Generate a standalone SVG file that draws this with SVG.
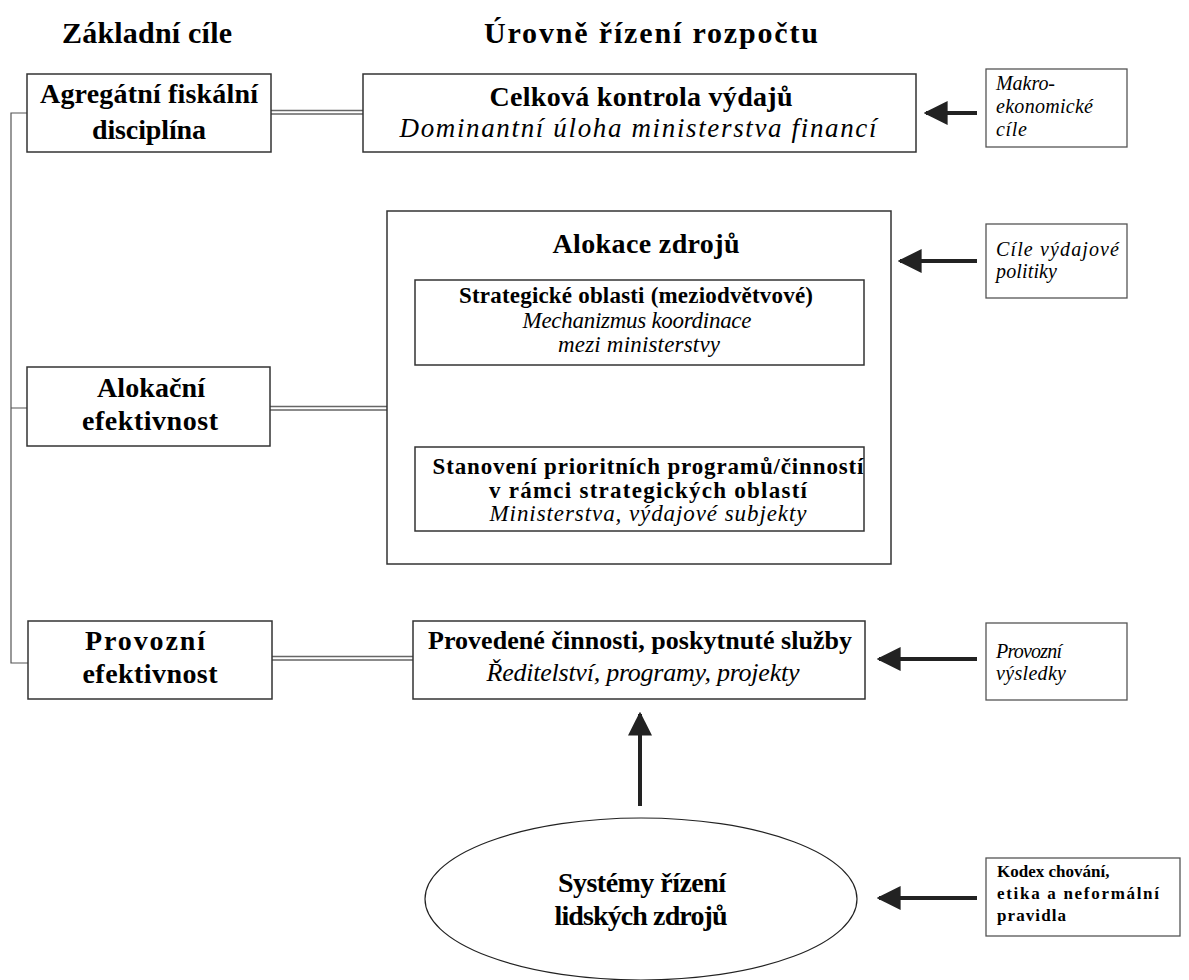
<svg xmlns="http://www.w3.org/2000/svg" width="1189" height="980" viewBox="0 0 1189 980">
<defs>
<style>
.box{fill:#fff;stroke:#333;stroke-width:1.5}
.side{fill:#fff;stroke:#555;stroke-width:1.3}
text{font-family:"Liberation Serif",Tinos,"Times New Roman",Times,serif;fill:#000}
.b{font-weight:bold}
.i{font-style:italic}
.c{text-anchor:middle}
.dbl{stroke:#666;stroke-width:1.4;fill:none}
.thin{stroke:#555;stroke-width:1.2;fill:none}
.arr{stroke:#222;stroke-width:4;fill:none}
</style>
<marker id="ah" viewBox="0 0 10 10" refX="9" refY="5" markerWidth="6" markerHeight="6" orient="auto" markerUnits="strokeWidth">
<path d="M0,0 L10,5 L0,10 Z" fill="#222"/>
</marker>
</defs>
<rect width="1189" height="980" fill="#fff"/>

<g id="titles">
<text class="b c" x="147" y="43" font-size="30" textLength="170" lengthAdjust="spacing">Základní cíle</text>
<text class="b c" x="651" y="43" font-size="30" textLength="334" lengthAdjust="spacing">Úrovně řízení rozpočtu</text>
</g>

<g id="connectors">
<path class="thin" d="M27,113 H11 V663 H28 M11,408 H27"/>
<path class="dbl" d="M271,110.5 H363 M271,114 H363"/>
<path class="dbl" d="M270,406.5 H387 M270,410 H387"/>
<path class="dbl" d="M272,656.5 H413 M272,660 H413"/>
<line class="arr" x1="977" y1="113" x2="926" y2="113" marker-end="url(#ah)"/>
<line class="arr" x1="977" y1="261" x2="900" y2="261" marker-end="url(#ah)"/>
<line class="arr" x1="977" y1="659" x2="879" y2="659" marker-end="url(#ah)"/>
<line class="arr" x1="977" y1="898" x2="879" y2="898" marker-end="url(#ah)"/>
<line class="arr" x1="640" y1="806" x2="640" y2="714" marker-end="url(#ah)"/>
</g>

<g id="agregatni">
<rect class="box" x="27" y="74" width="244" height="78"/>
<text class="b c" x="149" y="103" font-size="28" textLength="218" lengthAdjust="spacing">Agregátní fiskální</text>
<text class="b c" x="149" y="139" font-size="28" textLength="114" lengthAdjust="spacing">disciplína</text>
</g>

<g id="alokacni">
<rect class="box" x="27" y="367" width="243" height="79"/>
<text class="b c" x="151" y="397" font-size="28" textLength="108" lengthAdjust="spacing">Alokační</text>
<text class="b c" x="150" y="430" font-size="28" textLength="136" lengthAdjust="spacing">efektivnost</text>
</g>

<g id="provozni">
<rect class="box" x="28" y="621" width="244" height="78"/>
<text class="b c" x="145" y="650" font-size="28" textLength="120" lengthAdjust="spacing">Provozní</text>
<text class="b c" x="150" y="683" font-size="28" textLength="135" lengthAdjust="spacing">efektivnost</text>
</g>

<g id="celkova">
<rect class="box" x="363" y="74" width="553" height="78"/>
<text class="b c" x="641" y="106" font-size="28" textLength="303" lengthAdjust="spacing">Celková kontrola výdajů</text>
<text class="i c" x="638" y="137" font-size="27" textLength="477" lengthAdjust="spacing">Dominantní úloha ministerstva financí</text>
</g>

<g id="makro">
<rect class="side" x="986" y="69" width="141" height="78"/>
<text class="i" x="996" y="90" font-size="20" textLength="59" lengthAdjust="spacing">Makro-</text>
<text class="i" x="996" y="113" font-size="20" textLength="97" lengthAdjust="spacing">ekonomické</text>
<text class="i" x="996" y="136" font-size="20" textLength="31" lengthAdjust="spacing">cíle</text>
</g>

<g id="alokace">
<rect class="box" x="387" y="211" width="504" height="353"/>
<text class="b c" x="646" y="253" font-size="28" textLength="187" lengthAdjust="spacing">Alokace zdrojů</text>
</g>

<g id="strategicke">
<rect class="box" x="415" y="280" width="449" height="85"/>
<text class="b c" x="636" y="303" font-size="23" textLength="354" lengthAdjust="spacing">Strategické oblasti (meziodvětvové)</text>
<text class="i c" x="637" y="328" font-size="23" textLength="229" lengthAdjust="spacing">Mechanizmus koordinace</text>
<text class="i c" x="639" y="352" font-size="23" textLength="162" lengthAdjust="spacing">mezi ministerstvy</text>
</g>

<g id="stanoveni">
<rect class="box" x="415" y="447" width="449" height="84"/>
<text class="b c" x="648" y="474" font-size="23" textLength="431" lengthAdjust="spacing">Stanovení prioritních programů/činností</text>
<text class="b c" x="648" y="498" font-size="23" textLength="318" lengthAdjust="spacing">v rámci strategických oblastí</text>
<text class="i c" x="648" y="521" font-size="23" textLength="317" lengthAdjust="spacing">Ministerstva, výdajové subjekty</text>
</g>

<g id="cile-vydajove">
<rect class="side" x="986" y="224" width="141" height="74"/>
<text class="i" x="996" y="256" font-size="20" textLength="123" lengthAdjust="spacing">Cíle výdajové</text>
<text class="i" x="996" y="278" font-size="20" textLength="61" lengthAdjust="spacing">politiky</text>
</g>

<g id="provedene">
<rect class="box" x="413" y="621" width="452" height="78"/>
<text class="b c" x="640" y="649" font-size="26" textLength="424" lengthAdjust="spacing">Provedené činnosti, poskytnuté služby</text>
<text class="i c" x="643" y="681" font-size="26" textLength="313" lengthAdjust="spacing">Ředitelství, programy, projekty</text>
</g>

<g id="provozni-vysledky">
<rect class="side" x="986" y="623" width="141" height="77"/>
<text class="i" x="996" y="658" font-size="20" textLength="66" lengthAdjust="spacing">Provozní</text>
<text class="i" x="996" y="680" font-size="20" textLength="70" lengthAdjust="spacing">výsledky</text>
</g>

<g id="systemy">
<ellipse cx="641" cy="899" rx="216" ry="81" fill="#fff" stroke="#222" stroke-width="1.2"/>
<text class="b c" x="642" y="892" font-size="28" textLength="168" lengthAdjust="spacing">Systémy řízení</text>
<text class="b c" x="641" y="925" font-size="28" textLength="173" lengthAdjust="spacing">lidských zdrojů</text>
</g>

<g id="kodex">
<rect class="side" x="986" y="858" width="194" height="78"/>
<text class="b" x="997" y="877" font-size="17">Kodex chování,</text>
<text class="b" x="997" y="899" font-size="17" textLength="162" lengthAdjust="spacing">etika a neformální</text>
<text class="b" x="997" y="921" font-size="17" textLength="69" lengthAdjust="spacing">pravidla</text>
</g>
</svg>
